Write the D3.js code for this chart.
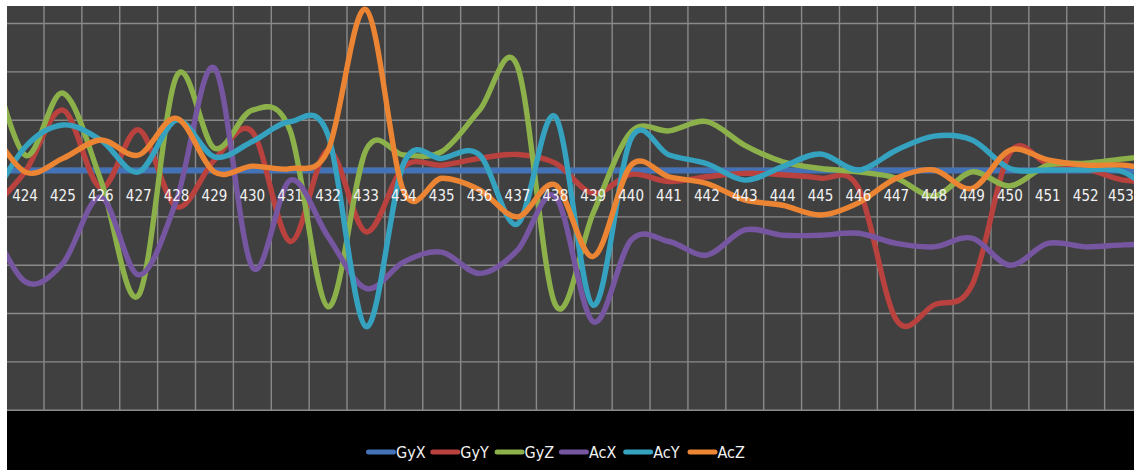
<!DOCTYPE html>
<html>
<head>
<meta charset="utf-8">
<script src="https://cdn.jsdelivr.net/npm/d3@7"></script>
<style>
  html, body { margin: 0; padding: 0; background: #ffffff; }
  svg { display: block; }
  .cat { font-family: "Liberation Sans Narrow", "DejaVu Sans Condensed", "Noto Sans", sans-serif; }
</style>
</head>
<body>
<svg id="chart" width="1134" height="470"></svg>
<script>
// Sample index (category axis); the first and last samples sit just outside the visible window
const categories = ["423","424","425","426","427","428","429","430","431","432","433","434","435","436","437","438",
                    "439","440","441","442","443","444","445","446","447","448","449","450","451","452","453","454"];
// Labels drawn along the axis
const tickLabels = ["424","425","426","427","428","429","430","431","432","433","434","435","436","437","438",
                    "439","440","441","442","443","444","445","446","447","448","449","450","451","452","453"];

// Sensor readings per sample (gyroscope and accelerometer axes)
const gyX = [-0.04,-0.04,-0.04,-0.04,-0.04,-0.04,-0.04,-0.04,-0.04,-0.04,-0.04,-0.04,-0.04,-0.04,-0.04,-0.04,
             -0.04,-0.04,-0.04,-0.04,-0.04,-0.04,-0.04,-0.04,-0.04,-0.04,-0.04,-0.04,-0.04,-0.04,-0.04,-0.04];
const gyY = [-0.90,-0.07,1.21,-0.40,0.80,-0.79,0.18,0.76,-1.51,0.38,-1.31,0.04,0.07,0.21,0.29,0.11,
             -0.51,-0.12,-0.27,-0.17,-0.10,-0.13,-0.20,-0.40,-3.13,-2.82,-2.41,0.32,0.10,0.00,-0.24,-0.24];
const gyZ = [2.60,0.28,1.56,-0.24,-2.62,1.91,0.42,1.21,0.78,-2.86,0.38,0.28,0.35,1.21,2.11,-2.82,
             -0.92,0.76,0.78,0.97,0.48,0.14,0.00,-0.07,-0.20,-0.57,-0.07,-0.36,0.07,0.11,0.20,0.28];
const acX = [-0.96,-2.34,-1.96,-0.59,-2.20,-0.65,2.08,-2.04,-0.24,-1.41,-2.48,-1.93,-1.73,-2.17,-1.69,-0.58,
             -3.17,-1.48,-1.51,-1.79,-1.27,-1.38,-1.38,-1.34,-1.55,-1.62,-1.44,-2.00,-1.55,-1.62,-1.58,-1.56];
const acY = [-0.82,0.44,0.90,0.59,-0.07,1.00,0.24,0.56,0.97,0.69,-3.27,0.11,0.21,0.28,-1.15,1.07,
             -2.83,0.62,0.28,0.10,-0.24,0.04,0.30,-0.03,0.38,0.67,0.59,0.00,-0.03,-0.03,-0.07,-0.65];
const acZ = [0.96,-0.07,0.21,0.59,0.28,1.04,-0.07,0.05,0.00,0.38,3.29,-0.48,-0.20,-0.44,-1.00,-0.34,
             -1.82,0.07,-0.17,-0.31,-0.65,-0.76,-0.96,-0.71,-0.20,-0.03,-0.41,0.38,0.18,0.07,0.07,-0.07];

const seriesNames = ["GyX","GyY","GyZ","AcX","AcY","AcZ"];
const seriesColors = ["#4472b6","#b9413e","#8cb14a","#7656a0","#35a2c0","#ec8533"];
const yTicks = [-5,-4,-3,-2,-1,0,1,2,3,4];

const series = [gyX, gyY, gyZ, acX, acY, acZ].map((vals, i) => ({
  name: seriesNames[i], color: seriesColors[i],
  points: vals.map((v, j) => ({ cat: categories[j], v }))
}));

const W = 1134, H = 470;
const plot = { left: 7, top: 6, right: 1134, bottom: 410.2 };
const step = 37.88;

const svg = d3.select("#chart");

const x = d3.scaleBand()
  .domain(categories)
  .range([6.1 - step, 6.1 + 31 * step])
  .paddingInner(0).paddingOuter(0);
const y = d3.scaleLinear().domain([-5, 4]).range([410.2, -24.8]);
const cx = c => x(c) + x.bandwidth() / 2;

// page background and lower legend band
svg.append("rect").attr("x", 0).attr("y", 0).attr("width", W).attr("height", H).attr("fill", "#ffffff");
svg.append("rect").attr("x", plot.left).attr("y", plot.bottom).attr("width", W - plot.left).attr("height", H - plot.bottom).attr("fill", "#000000");

svg.append("clipPath").attr("id", "plotClip")
  .append("rect")
  .attr("x", plot.left).attr("y", plot.top)
  .attr("width", plot.right - plot.left).attr("height", plot.bottom - plot.top + 1);

const g = svg.append("g").attr("clip-path", "url(#plotClip)");

g.append("rect")
  .attr("x", plot.left).attr("y", plot.top)
  .attr("width", plot.right - plot.left).attr("height", plot.bottom - plot.top)
  .attr("fill", "#404040");

// horizontal grid
g.append("g").selectAll("line").data(yTicks).join("line")
  .attr("x1", plot.left).attr("x2", plot.right)
  .attr("y1", d => y(d)).attr("y2", d => y(d))
  .attr("stroke", "#8a8a8a").attr("stroke-width", 1.4);

// vertical grid at category boundaries
g.append("g").selectAll("line").data(categories).join("line")
  .attr("x1", d => x(d)).attr("x2", d => x(d))
  .attr("y1", y(4)).attr("y2", y(-5))
  .attr("stroke", "#8a8a8a").attr("stroke-width", 1.4);

// category labels sitting just below the zero line
svg.append("g").selectAll("text").data(tickLabels).join("text")
  .attr("class", "cat")
  .attr("x", d => Math.min(cx(d), W - 13))
  .attr("y", y(0) + 32)
  .attr("text-anchor", "middle")
  .attr("font-size", 15)
  .attr("fill", "#f2f2f2")
  .text(d => d);

// smoothed series lines
const line = d3.line()
  .x(d => cx(d.cat))
  .y(d => y(d.v))
  .curve(d3.curveCardinal.tension(0));

g.append("g").selectAll("path").data(series).join("path")
  .attr("d", d => line(d.points))
  .attr("fill", "none")
  .attr("stroke", d => d.color)
  .attr("stroke-width", d => d.name === "GyX" ? 6 : 5.4)
  .attr("stroke-linejoin", "round")
  .attr("stroke-linecap", "round");

// legend
const legendX0 = 366, legendPitch = 64.3, legendY = 452;
const leg = svg.append("g").selectAll("g").data(series).join("g")
  .attr("transform", (d, i) => `translate(${legendX0 + i * legendPitch},${legendY})`);
leg.append("line")
  .attr("x1", 2.5).attr("x2", 27.5).attr("y1", 0).attr("y2", 0)
  .attr("stroke", d => d.color).attr("stroke-width", 5).attr("stroke-linecap", "round");
leg.append("text")
  .attr("class", "cat")
  .attr("x", 30).attr("y", 6)
  .attr("font-size", 16)
  .attr("fill", "#f2f2f2")
  .text(d => d.name);
</script>
</body>
</html>
